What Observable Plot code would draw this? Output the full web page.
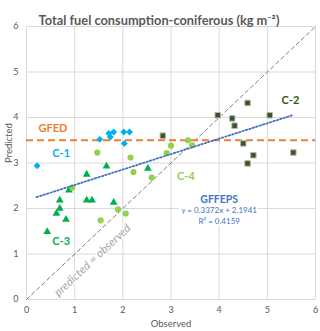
<!DOCTYPE html>
<html>
<head>
<meta charset="utf-8">
<script src="https://cdn.jsdelivr.net/npm/d3@7"></script>
<script src="https://cdn.jsdelivr.net/npm/@observablehq/plot@0.6"></script>
<style>
  html, body { margin: 0; padding: 0; background: #fff; }
  svg { display: block; }
</style>
</head>
<body>
<div id="chart"></div>
<script>
// ---- data ----
const title = "Total fuel consumption-coniferous (kg m\u207B\u00B2)";
const xLabel = "Observed";
const yLabel = "Predicted";
const ticks = [0, 1, 2, 3, 4, 5, 6];

const c1X = [0.22, 1.52, 1.71, 1.74, 1.81, 2.02, 2.03, 2.14];
const c1Y = [2.94, 3.52, 3.65, 3.57, 3.68, 3.68, 3.43, 3.68];

const c3X = [0.43, 0.62, 0.69, 0.69, 0.82, 0.88, 1.25, 1.25, 1.36, 1.66, 1.81, 2.52];
const c3Y = [1.49, 1.89, 2.00, 2.18, 1.76, 2.40, 2.75, 2.18, 2.18, 2.93, 2.13, 2.88];

const c4X = [0.95, 1.47, 1.54, 1.90, 2.06, 2.16, 2.22, 2.60, 2.91, 3.00, 3.35, 3.44];
const c4Y = [2.46, 3.23, 1.74, 1.98, 1.89, 3.12, 2.80, 2.68, 3.22, 3.38, 3.50, 3.39];

const c2X = [2.83, 3.97, 4.27, 4.32, 4.50, 4.59, 4.59, 4.71, 5.05, 5.54];
const c2Y = [3.60, 4.05, 3.98, 3.82, 3.43, 4.32, 2.99, 3.17, 4.05, 3.23];

const gfed = 3.5;
const idX = [0, 6];
const idY = [0, 6];
const trendX = [0.21, 5.52];
const trendY = [2.25, 4.05];

const seriesLabels = ["GFED", "C-1", "C-3", "C-4", "C-2"];
const seriesLabelX = [0.55, 0.72, 0.72, 3.31, 5.48];
const seriesLabelY = [3.76, 3.21, 1.27, 2.71, 4.38];
const seriesLabelColor = ["#ed7d31", "#00b0f0", "#00b050", "#92d050", "#375623"];

const fitName = "GFFEPS";
const fitEq = "y = 0.3372x + 2.1941";
const fitR2 = "R\u00B2 = 0.4159";
const fitLabelX = 4.0;
const fitLabelY = [2.20, 1.95, 1.71];

const identityLabel = "predicted = observed";
const identityLabelX = 1.37;
const identityLabelY = 0.86;

// ---- build tables ----
const pts = (xs, ys) => xs.map((x, i) => ({x, y: ys[i]}));
const c1 = pts(c1X, c1Y), c2 = pts(c2X, c2Y), c3 = pts(c3X, c3Y), c4 = pts(c4X, c4Y);
const labels = seriesLabels.map((t, i) => ({t, x: seriesLabelX[i], y: seriesLabelY[i], c: seriesLabelColor[i]}));

const font = "Lato, 'Open Sans', sans-serif";

const chart = Plot.plot({
  width: 320,
  height: 331,
  marginLeft: 26,
  marginRight: 5,
  marginTop: 26,
  marginBottom: 32,
  style: {fontFamily: font, background: "#fff", overflow: "visible"},
  x: {domain: [0, 6], ticks},
  y: {domain: [0, 6], ticks},
  marks: [
    Plot.gridX(ticks, {stroke: "#d9d9d9", strokeOpacity: 1}),
    Plot.gridY(ticks, {stroke: "#d9d9d9", strokeOpacity: 1}),
    Plot.axisX(ticks, {tickSize: 0, tickPadding: 7, label: null, fill: "#595959", fontSize: 9}),
    Plot.axisY(ticks, {tickSize: 0, tickPadding: 8, label: null, fill: "#595959", fontSize: 9}),
    // identity line
    Plot.line(pts(idX, idY), {x: "x", y: "y", stroke: "#7f7f7f", strokeWidth: 1, strokeDasharray: "4 3"}),
    Plot.text([identityLabel], {x: identityLabelX, y: identityLabelY, rotate: -43, fill: "#a6a6a6",
      fontStyle: "italic", fontSize: 11.5, stroke: "white", strokeWidth: 3}),
    // GFED line
    Plot.ruleY([gfed], {stroke: "#ed7d31", strokeWidth: 2, strokeDasharray: "7 4"}),
    // points
    Plot.dot(c3, {x: "x", y: "y", symbol: "triangle", r: 2.9, fill: "#00b050", stroke: "none"}),
    Plot.dot(c4, {x: "x", y: "y", symbol: "circle", r: 3.1, fill: "#92d050", stroke: "none"}),
    Plot.dot(c2, {x: "x", y: "y", symbol: "square", r: 3.1, fill: "#375623", stroke: "#b7b7b7", strokeWidth: 1}),
    Plot.dot(c1, {x: "x", y: "y", symbol: "diamond2", r: 3.1, fill: "#00b0f0", stroke: "none"}),
    // trend line
    Plot.line(pts(trendX, trendY), {x: "x", y: "y", stroke: "#4472c4", strokeWidth: 1.8, strokeDasharray: "1.6 2"}),
    // series labels
    Plot.text(labels, {x: "x", y: "y", text: "t", fill: "c", fontWeight: "bold", fontSize: 11}),
    // fit labels
    Plot.text([fitName], {x: fitLabelX, y: fitLabelY[0], fill: "#4472c4", fontWeight: "bold", fontSize: 10.5,
      stroke: "white", strokeWidth: 4}),
    Plot.text([fitEq], {x: fitLabelX, y: fitLabelY[1], fill: "#4472c4", fontSize: 8,
      stroke: "white", strokeWidth: 5}),
    Plot.text([fitR2], {x: fitLabelX, y: fitLabelY[2], fill: "#4472c4", fontSize: 8,
      stroke: "white", strokeWidth: 5}),
    // title & axis labels
    Plot.text([title], {frameAnchor: "top", dx: -12, dy: -11, fill: "#595959", fontWeight: "bold", fontSize: 12.8}),
    Plot.text([xLabel], {frameAnchor: "bottom", dy: 27, fill: "#595959", fontSize: 9.5}),
    Plot.text([yLabel], {frameAnchor: "left", dx: -18, rotate: -90, fill: "#595959", fontSize: 9.5})
  ]
});
document.getElementById("chart").appendChild(chart);
</script>
</body>
</html>
